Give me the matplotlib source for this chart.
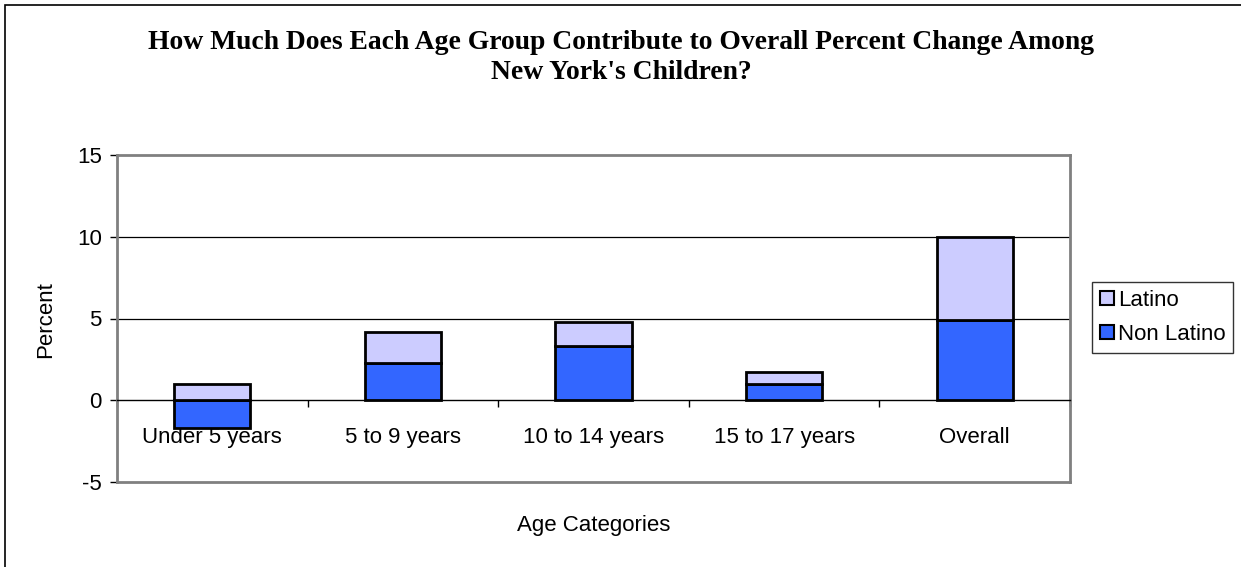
import matplotlib
matplotlib.use("Agg")
import matplotlib.pyplot as plt
from matplotlib.patches import Rectangle, Patch
import numpy as np

categories = ["Under 5 years", "5 to 9 years", "10 to 14 years", "15 to 17 years", "Overall"]
non_latino = [-1.7, 2.3, 3.3, 1.0, 4.9]
latino = [1.0, 1.9, 1.5, 0.7, 5.1]
y_ticks = [-5, 0, 5, 10, 15]

title = "How Much Does Each Age Group Contribute to Overall Percent Change Among\nNew York's Children?"
color_latino = "#CCCCFF"
color_non_latino = "#3366FF"
frame_gray = "#808080"
fs = 16

W, H = 1241, 567
fig = plt.figure(figsize=(W / 100, H / 100), dpi=100)
plt.rcParams["font.family"] = ["Liberation Sans", "DejaVu Sans"]

ax = fig.add_axes([117 / W, 1 - 482 / H, (1070 - 117) / W, (482 - 155) / H])

x = np.arange(len(categories))
nl = np.array(non_latino)
lt = np.array(latino)
# Positive segments stack upward from zero, negative ones go below it
lat_bottom = np.where(nl > 0, nl, 0)
bar_kw = dict(width=0.4, edgecolor="black", linewidth=2, zorder=3)
ax.bar(x, nl, color=color_non_latino, **bar_kw)
ax.bar(x, lt, bottom=lat_bottom, color=color_latino, **bar_kw)

ax.set_xlim(-0.5, len(categories) - 0.5)
ax.set_ylim(y_ticks[0], y_ticks[-1])

# Gridlines
for v in y_ticks[1:-1]:
    if v != 0:
        ax.axhline(v, color="black", linewidth=0.9, zorder=1)

# Spines: grey frame, zero axis in black
for s in ["left", "right", "top"]:
    ax.spines[s].set_color(frame_gray)
    ax.spines[s].set_linewidth(2)
ax.spines["bottom"].set_position(("data", 0))
ax.spines["bottom"].set_color("black")
ax.spines["bottom"].set_linewidth(1)
ax.axhline(y_ticks[0], color=frame_gray, linewidth=2, clip_on=False, zorder=4)

ax.set_yticks(y_ticks)
ax.set_yticklabels([str(v) for v in y_ticks], fontsize=fs)
ax.tick_params(axis="y", direction="out", length=5, width=1, color="black", pad=6)

ax.set_xticks(x)
ax.set_xticklabels(categories, fontsize=fs)
ax.set_xticks(np.arange(-0.5, len(categories)), minor=True)
ax.tick_params(axis="x", which="major", length=0, pad=19)
ax.tick_params(axis="x", which="minor", direction="out", length=5, width=1, color="black")

fig.text(46 / W, 1 - 320 / H, "Percent", rotation=90, ha="center", va="center", fontsize=fs)
fig.text(593.5 / W, 1 - 526 / H, "Age Categories", ha="center", va="center", fontsize=fs)
fig.text(621 / W, 1 - 57.5 / H, title, ha="center", va="center", fontsize=19.9,
         fontweight="bold", family=["Liberation Serif", "DejaVu Serif"], linespacing=1.26)

handles = [Patch(facecolor=color_latino, edgecolor="black", linewidth=1.5, label="Latino"),
           Patch(facecolor=color_non_latino, edgecolor="black", linewidth=1.5, label="Non Latino")]
leg = fig.legend(handles=handles, loc="upper left",
                 bbox_to_anchor=(1092 / W, 1 - 282 / H), fontsize=fs,
                 frameon=True, fancybox=False, edgecolor="black",
                 handlelength=0.62, handleheight=0.62, handletextpad=0.2,
                 borderpad=0.35, labelspacing=0.6, borderaxespad=0)
leg.get_frame().set_linewidth(1)

# Outer chart border
fig.add_artist(Rectangle((5 / W, -0.1), 1.2, 1.1 - 5 / H, transform=fig.transFigure,
                         fill=False, edgecolor="black", linewidth=1.2))

fig.savefig("out.png", dpi=100)
